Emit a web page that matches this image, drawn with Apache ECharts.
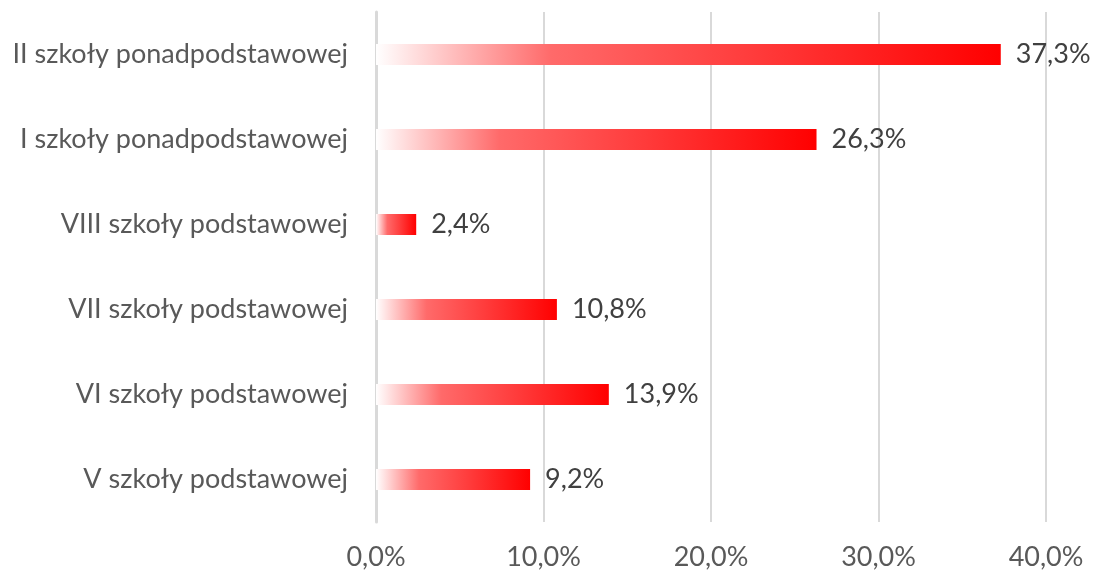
<!DOCTYPE html>
<html>
<head>
<meta charset="utf-8">
<script src="https://cdn.jsdelivr.net/npm/echarts@6/dist/echarts.min.js"></script>
<style>
  html, body { margin: 0; padding: 0; background: #ffffff; }
  #chart { width: 1094px; height: 573px; }
</style>
</head>
<body>
<div id="chart"></div>
<script>
// Grades listed bottom-to-top as they appear on the category axis
const categories = [
  'V szkoły podstawowej',
  'VI szkoły podstawowej',
  'VII szkoły podstawowej',
  'VIII szkoły podstawowej',
  'I szkoły ponadpodstawowej',
  'II szkoły ponadpodstawowej'
];
const values = [9.2, 13.9, 10.8, 2.4, 26.3, 37.3];
const axisMax = 40;
const axisStep = 10;

const fmt = v => v.toFixed(1).replace('.', ',') + '%';
const FONT = 'Lato, "Open Sans", sans-serif';
const FONT_SIZE = 27;

const chart = echarts.init(document.getElementById('chart'));
chart.setOption({
  animation: false,
  grid: { left: 376, right: 48, top: 12, bottom: 51, containLabel: false },
  xAxis: {
    type: 'value',
    min: 0,
    max: axisMax,
    interval: axisStep,
    axisLine: { show: false },
    axisTick: { show: false },
    axisLabel: {
      formatter: fmt,
      color: '#595959',
      fontFamily: FONT,
      fontSize: FONT_SIZE,
      margin: 22
    },
    splitLine: { lineStyle: { color: '#d9d9d9', width: 2 } }
  },
  yAxis: {
    type: 'category',
    data: categories,
    axisLine: { show: true, lineStyle: { color: '#d9d9d9', width: 3 } },
    axisTick: { show: false },
    axisLabel: {
      color: '#595959',
      fontFamily: FONT,
      fontSize: FONT_SIZE,
      margin: 28
    }
  },
  series: [{
    type: 'bar',
    data: values,
    barWidth: 21,
    itemStyle: {
      color: new echarts.graphic.LinearGradient(0, 0, 1, 0, [
        { offset: 0, color: 'rgba(255,255,255,1)' },
        { offset: 0.28, color: '#ff6a6a' },
        { offset: 0.6, color: '#ff3c3c' },
        { offset: 1, color: '#ff0000' }
      ])
    },
    label: {
      show: true,
      position: 'right',
      distance: 15,
      formatter: p => fmt(p.value),
      color: '#404040',
      fontFamily: FONT,
      fontSize: FONT_SIZE
    }
  }]
});
</script>
</body>
</html>
